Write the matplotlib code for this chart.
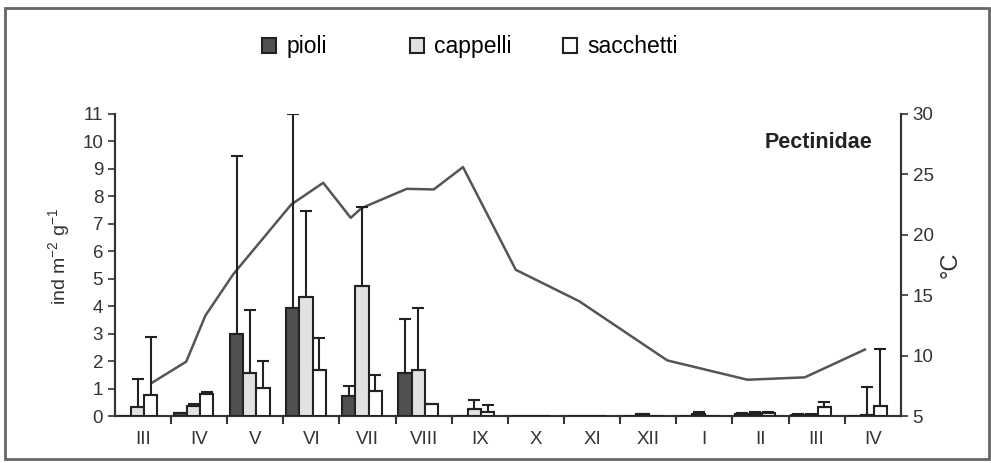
import numpy as np
import matplotlib
matplotlib.use('Agg')
from matplotlib import pyplot as plt
from matplotlib.patches import Rectangle, Patch

months = ['III', 'IV', 'V', 'VI', 'VII', 'VIII', 'IX', 'X', 'XI', 'XII', 'I', 'II', 'III', 'IV']

pioli = [0, 0.1, 3.0, 3.95, 0.72, 1.57, 0, 0, 0, 0, 0, 0.07, 0.05, 0]
pioli_sd = [0, 0, 6.45, 7.05, 0.37, 1.98, 0, 0, 0, 0, 0, 0.03, 0.03, 0]
cappelli = [0.33, 0.38, 1.55, 4.35, 4.75, 1.68, 0.27, 0, 0, 0.06, 0.08, 0.08, 0.05, 0.03]
cappelli_sd = [1.0, 0.07, 2.32, 3.1, 2.87, 2.25, 0.33, 0, 0, 0.03, 0.07, 0.05, 0.03, 1.02]
sacchetti = [0.77, 0.8, 1.02, 1.66, 0.92, 0.42, 0.15, 0, 0, 0, 0, 0.1, 0.32, 0.38]
sacchetti_sd = [2.1, 0.07, 1.0, 1.17, 0.58, 0, 0.24, 0, 0, 0, 0, 0.05, 0.2, 2.07]

# temperature: sampling position (in month units) and value
temp_x = [0.66, 1.27, 1.61, 2.11, 3.14, 3.71, 4.20, 4.39, 5.20, 5.68, 6.20, 7.14, 8.27, 9.84, 11.27, 12.29, 13.36]
temp_c = [7.75, 9.5, 13.3, 16.75, 22.5, 24.3, 21.4, 22.2, 23.8, 23.75, 25.6, 17.1, 14.5, 9.6, 8.0, 8.2, 10.5]

plt.rcParams['font.family'] = ['Liberation Sans', 'DejaVu Sans']
plt.rcParams['mathtext.default'] = 'regular'

fig = plt.figure(figsize=(9.91, 4.63), dpi=100)
ax = fig.add_axes([0.116, 0.1015, 0.793, 0.6525])
ax2 = ax.twinx()

ind = np.arange(len(months))
w = 0.235
series = [(pioli, pioli_sd, '#505050'), (cappelli, cappelli_sd, '#e2e2e2'), (sacchetti, sacchetti_sd, 'white')]
for k, (vals, sd, col) in enumerate(series):
    pos = ind + 0.05 + w / 2 + k * w
    ax.bar(pos, vals, width=w, color=col, edgecolor='#222222', linewidth=1.5, zorder=3)
    vals = np.array(vals)
    sd = np.array(sd)
    m = (vals > 0) | (sd > 0)
    ax.errorbar(pos[m], vals[m], yerr=[np.zeros(m.sum()), sd[m]], fmt='none',
                ecolor='#222222', elinewidth=1.5, capsize=4, capthick=1.5, zorder=4)

ax2.plot(temp_x, temp_c, color='#555555', linewidth=1.8, zorder=2)
ax.set_zorder(ax2.get_zorder() + 1)
ax.patch.set_visible(False)

ax.set_xlim(0, 14)
ax.set_ylim(0, 11)
ax2.set_ylim(5, 30)
ax.set_yticks(range(0, 12))
ax2.set_yticks([5, 10, 15, 20, 25, 30])

ax.set_xticks(ind[1:], minor=False)
ax.set_xticklabels([])
ax.set_xticks(ind + 0.5, minor=True)
ax.set_xticklabels(months, minor=True)
ax.tick_params(axis='x', which='major', length=6, width=1.5, direction='out', color='#333333')
ax.tick_params(axis='x', which='minor', length=0, pad=11, labelsize=13.5, labelcolor='#333333')
ax.tick_params(axis='y', length=5, width=1.2, labelsize=13.5, labelcolor='#333333', color='#333333')
ax2.tick_params(axis='y', length=5, width=1.2, labelsize=13.5, labelcolor='#333333', color='#333333')

for a in (ax, ax2):
    a.spines['top'].set_visible(False)
    for s in ('left', 'right', 'bottom'):
        a.spines[s].set_linewidth(1.5)
        a.spines[s].set_color('#333333')

ax.set_ylabel('ind m$^{-2}$ g$^{-1}$', fontsize=14, color='#333333')
ax.yaxis.set_label_coords(-0.055, 0.527)
ax2.set_ylabel('°C', fontsize=17, color='#333333', labelpad=4)

ax.text(0.964, 0.905, 'Pectinidae', transform=ax.transAxes, ha='right', va='center',
        fontsize=15.5, fontweight='bold', color='#222222')

# legend entries placed one by one to follow the uneven spacing
leg_x = [262, 410, 563]
for (vals, sd, col), name, lx in zip(series, ['pioli', 'cappelli', 'sacchetti'], leg_x):
    h = Patch(facecolor=col, edgecolor='#222222', linewidth=1.5)
    fig.legend([h], [name], loc='center left', bbox_to_anchor=(lx / 991, 0.8985),
               frameon=False, fontsize=16.5, borderpad=0, borderaxespad=0,
               handlelength=0.6, handleheight=0.6, handletextpad=0.45)

fig.patches.append(Rectangle((5 / 991, 4 / 463), 984 / 991, 451 / 463, transform=fig.transFigure,
                             fill=False, edgecolor='#666666', linewidth=2))

fig.savefig('out.png', dpi=100)
